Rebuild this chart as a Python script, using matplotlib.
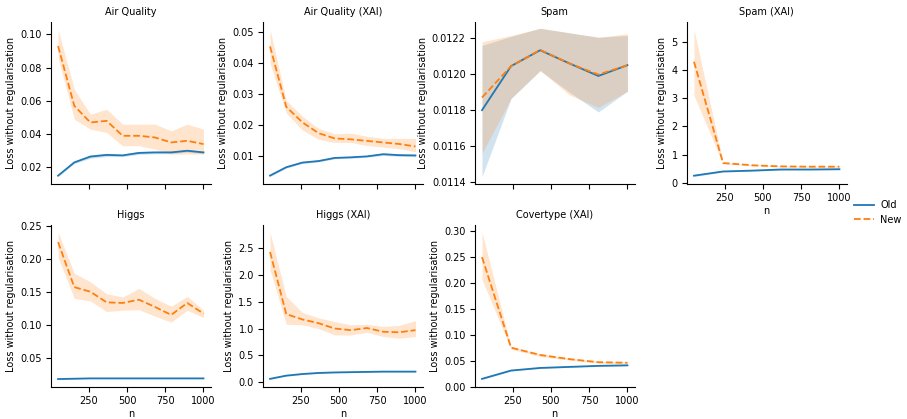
import numpy as np
import matplotlib.pyplot as plt

# x grids (number of samples)
n10 = [50, 156, 261, 367, 472, 578, 683, 789, 894, 1000]
n6 = [50, 240, 430, 620, 810, 1000]

titles = ["Air Quality", "Air Quality (XAI)", "Spam", "Spam (XAI)",
          "Higgs", "Higgs (XAI)", "Covertype (XAI)"]

# Air Quality
aq_old = [0.015, 0.023, 0.0265, 0.0275, 0.0272, 0.0287, 0.029, 0.029, 0.030, 0.029]
aq_old_lo = [0.0145, 0.0222, 0.0255, 0.0265, 0.0265, 0.0278, 0.0282, 0.0282, 0.0292, 0.0283]
aq_old_hi = [0.0155, 0.0238, 0.0275, 0.0285, 0.028, 0.0296, 0.0298, 0.0298, 0.0308, 0.0297]
aq_new = [0.093, 0.057, 0.047, 0.048, 0.039, 0.039, 0.038, 0.035, 0.036, 0.034]
aq_new_lo = [0.086, 0.049, 0.043, 0.041, 0.033, 0.033, 0.031, 0.028, 0.028, 0.028]
aq_new_hi = [0.103, 0.067, 0.052, 0.055, 0.046, 0.046, 0.046, 0.042, 0.046, 0.043]

# Air Quality (XAI)
aqx_old = [0.0038, 0.0065, 0.008, 0.0085, 0.0095, 0.0097, 0.010, 0.0107, 0.0104, 0.0103]
aqx_old_lo = [0.0035, 0.0062, 0.0077, 0.0082, 0.0092, 0.0094, 0.0097, 0.0103, 0.0100, 0.0099]
aqx_old_hi = [0.0041, 0.0068, 0.0083, 0.0088, 0.0098, 0.0100, 0.0103, 0.0111, 0.0108, 0.0107]
aqx_new = [0.0455, 0.026, 0.021, 0.0175, 0.0158, 0.0155, 0.015, 0.0145, 0.014, 0.0132]
aqx_new_lo = [0.040, 0.024, 0.0185, 0.0155, 0.0145, 0.0145, 0.0135, 0.013, 0.0125, 0.0115]
aqx_new_hi = [0.051, 0.028, 0.023, 0.019, 0.0173, 0.0175, 0.0165, 0.0158, 0.0158, 0.0158]

# Spam
sp_old = [0.01180, 0.012045, 0.012133, 0.01206, 0.011990, 0.012050]
sp_old_lo = [0.011430, 0.011865, 0.012020, 0.01190, 0.011790, 0.011905]
sp_old_hi = [0.012160, 0.012210, 0.012255, 0.01223, 0.012205, 0.012215]
sp_new = [0.011870, 0.012045, 0.012135, 0.01206, 0.011998, 0.012050]
sp_new_lo = [0.011560, 0.011865, 0.012020, 0.011885, 0.011815, 0.011905]
sp_new_hi = [0.012180, 0.012215, 0.012255, 0.01223, 0.012205, 0.012225]

# Spam (XAI)
spx_old = [0.25, 0.40, 0.43, 0.47, 0.47, 0.48]
spx_old_lo = [0.22, 0.38, 0.41, 0.45, 0.45, 0.46]
spx_old_hi = [0.28, 0.42, 0.45, 0.49, 0.49, 0.50]
spx_new = [4.3, 0.70, 0.62, 0.58, 0.57, 0.57]
spx_new_lo = [3.1, 0.67, 0.60, 0.56, 0.55, 0.55]
spx_new_hi = [5.45, 0.73, 0.64, 0.60, 0.59, 0.59]

# Higgs
hg_old = [0.018, 0.0185, 0.019, 0.019, 0.019, 0.019, 0.019, 0.019, 0.019, 0.019]
hg_old_lo = [0.0175, 0.018, 0.0185, 0.0185, 0.0185, 0.0185, 0.0185, 0.0185, 0.0185, 0.0185]
hg_old_hi = [0.0185, 0.019, 0.0195, 0.0195, 0.0195, 0.0195, 0.0195, 0.0195, 0.0195, 0.0195]
hg_new = [0.225, 0.157, 0.150, 0.134, 0.133, 0.138, 0.127, 0.115, 0.133, 0.117]
hg_new_lo = [0.202, 0.140, 0.136, 0.120, 0.122, 0.123, 0.113, 0.104, 0.122, 0.111]
hg_new_hi = [0.240, 0.178, 0.165, 0.147, 0.142, 0.155, 0.140, 0.128, 0.143, 0.122]

# Higgs (XAI)
hgx_old = [0.06, 0.12, 0.15, 0.17, 0.18, 0.185, 0.19, 0.195, 0.195, 0.195]
hgx_old_lo = [0.05, 0.11, 0.14, 0.16, 0.17, 0.175, 0.18, 0.185, 0.185, 0.185]
hgx_old_hi = [0.07, 0.13, 0.16, 0.18, 0.19, 0.195, 0.20, 0.205, 0.205, 0.205]
hgx_new = [2.43, 1.27, 1.17, 1.10, 1.00, 0.97, 1.01, 0.94, 0.93, 0.97]
hgx_new_lo = [2.10, 1.08, 1.07, 1.00, 0.88, 0.88, 0.93, 0.85, 0.82, 0.85]
hgx_new_hi = [2.80, 1.60, 1.30, 1.20, 1.13, 1.07, 1.08, 1.04, 1.06, 1.15]

# Covertype (XAI)
ct_old = [0.015, 0.031, 0.036, 0.038, 0.040, 0.041]
ct_old_lo = [0.014, 0.030, 0.035, 0.037, 0.039, 0.040]
ct_old_hi = [0.016, 0.032, 0.037, 0.039, 0.041, 0.042]
ct_new = [0.249, 0.075, 0.061, 0.053, 0.047, 0.046]
ct_new_lo = [0.206, 0.072, 0.058, 0.051, 0.045, 0.044]
ct_new_hi = [0.297, 0.077, 0.063, 0.055, 0.049, 0.048]

panels = [
    (n10, aq_old, aq_old_lo, aq_old_hi, aq_new, aq_new_lo, aq_new_hi),
    (n10, aqx_old, aqx_old_lo, aqx_old_hi, aqx_new, aqx_new_lo, aqx_new_hi),
    (n6, sp_old, sp_old_lo, sp_old_hi, sp_new, sp_new_lo, sp_new_hi),
    (n6, spx_old, spx_old_lo, spx_old_hi, spx_new, spx_new_lo, spx_new_hi),
    (n10, hg_old, hg_old_lo, hg_old_hi, hg_new, hg_new_lo, hg_new_hi),
    (n10, hgx_old, hgx_old_lo, hgx_old_hi, hgx_new, hgx_new_lo, hgx_new_hi),
    (n6, ct_old, ct_old_lo, ct_old_hi, ct_new, ct_new_lo, ct_new_hi),
]

blue = "#1f77b4"
orange = "#ff7f0e"
fs = 7

fig, axes = plt.subplots(2, 4, figsize=(9.07, 4.19), dpi=100, sharex=True)
fig.subplots_adjust(left=0.056, right=0.9335, top=0.9475, bottom=0.077,
                    wspace=0.325, hspace=0.253)
axes = axes.flatten()

for i, (ax, p) in enumerate(zip(axes, panels)):
    x, o, olo, ohi, nw, nlo, nhi = p
    ax.fill_between(x, olo, ohi, color=blue, alpha=0.2, linewidth=0)
    l1, = ax.plot(x, o, color=blue, lw=1.3, label="Old")
    ax.fill_between(x, nlo, nhi, color=orange, alpha=0.2, linewidth=0)
    l2, = ax.plot(x, nw, color=orange, lw=1.3, ls="--", label="New")
    ax.set_title(titles[i], fontsize=fs, pad=5)
    ax.set_ylabel("Loss without regularisation", fontsize=fs, labelpad=3)
    ax.tick_params(labelsize=fs, pad=3)
    ax.spines["top"].set_visible(False)
    ax.spines["right"].set_visible(False)
    ax.set_xticks([250, 500, 750, 1000])
    if i >= 3:
        ax.set_xlabel("n", fontsize=fs, labelpad=2)
        ax.tick_params(labelbottom=True)
    else:
        ax.tick_params(labelbottom=False)

axes[0].set_yticks([0.02, 0.04, 0.06, 0.08, 0.10])
axes[2].set_ylim(0.01139, 0.01229)
axes[2].set_yticks([0.0114, 0.0116, 0.0118, 0.0120, 0.0122])
axes[7].set_visible(False)

fig.legend(handles=[l1, l2], loc="center left", bbox_to_anchor=(0.932, 0.493),
           frameon=False, fontsize=fs, handlelength=2.0, handletextpad=0.7)

plt.savefig("out.png", dpi=100)
